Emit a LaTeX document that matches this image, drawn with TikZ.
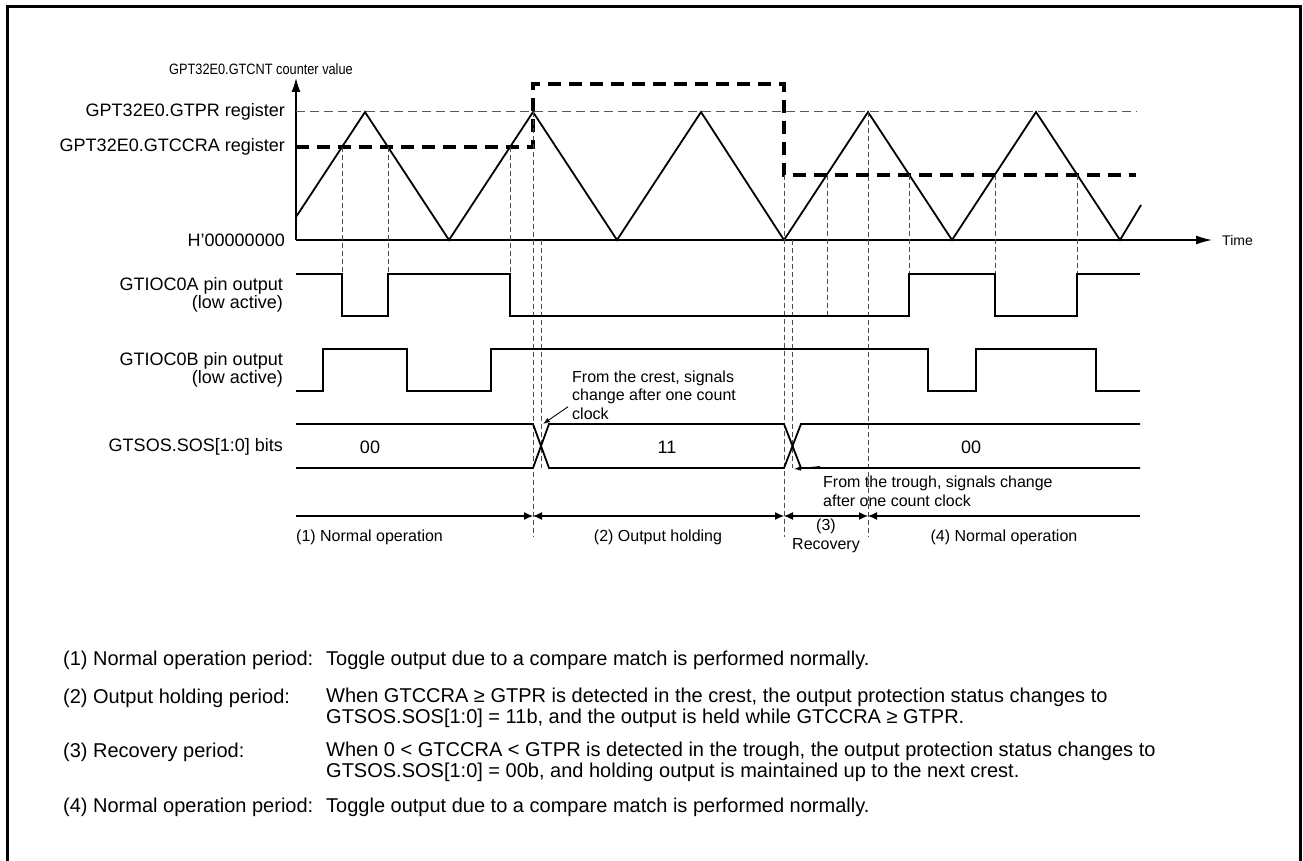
\documentclass[tikz,border=0pt]{standalone}
\usepackage{fontspec}
\setmainfont{Liberation Sans}
\usetikzlibrary{arrows.meta}

\begin{document}
\begin{tikzpicture}[x=1pt,y=-1pt,>=Latex,
  lbl/.style={anchor=east,inner sep=0pt,font=\fontsize{18}{18}\selectfont},
  val/.style={inner sep=0pt,font=\fontsize{18}{18}\selectfont},
  note/.style={anchor=west,align=left,inner sep=0pt,font=\fontsize{16}{18.7}\selectfont},
  period/.style={inner sep=0pt,font=\fontsize{16}{19}\selectfont},
  desc/.style={anchor=west,align=left,inner sep=0pt,font=\fontsize{20}{21}\selectfont},
  wave/.style={line width=1.8pt,line join=miter},
  guide/.style={gray!60!black,line width=0.8pt,dash pattern=on 5pt off 3pt},
  prline/.style={gray!70!black,line width=1pt,dash pattern=on 9pt off 5pt},
  ccline/.style={line width=4pt,dash pattern=on 13pt off 8pt},
  pointer/.style={line width=0.9pt,-{Latex[length=7pt,width=5pt]}},
  span/.style={line width=1.2pt,>={Latex[length=9pt,width=8pt]}}]
  \useasboundingbox (0,0) rectangle (1303,861);
  \draw[line width=3pt] (7,880) -- (7,7) -- (1300,7) -- (1300,880);

  % counter axes and labels
  \draw[line width=1.4pt,-{Latex[length=14pt,width=9pt]}] (296,240) -- (296,78);
  \draw[line width=1.4pt,-{Latex[length=16pt,width=9pt]}] (296,240) -- (1212,240);
  \node[inner sep=0pt,font=\fontsize{15}{15}\selectfont] (cnt) at (261,69)
    {\scalebox{0.85}[1]{GPT32E0.GTCNT counter value}};
  \node[lbl] (gtpr) at (285,112) {GPT32E0.GTPR register};
  \node[lbl] (gtccra) at (285,147) {GPT32E0.GTCCRA register};
  \node[lbl] (zero) at (285,240) {H’00000000};
  \node[anchor=west,inner sep=0pt,font=\fontsize{14}{14}\selectfont] (time) at (1222,240) {Time};

  % compare levels
  \draw[prline] (296,112) -- (1137,112);
  \draw[ccline] (296,147) -- (533,147) -- (533,84) -- (784,84) -- (784,175) -- (1136,175);

  % triangle count
  \draw[wave] (296,217) -- (365,112) -- (449,240) -- (533,112) -- (617,240) -- (701,112)
    -- (784,240) -- (868,112) -- (952,240) -- (1036,112) -- (1120,240) -- (1141,205);

  % compare match guides
  \foreach \x in {342,388,510} \draw[guide] (\x,147) -- (\x,274);
  \foreach \x in {909,995,1077} \draw[guide] (\x,175) -- (\x,274);
  \draw[guide] (827,175) -- (827,316);
  \draw[guide] (533,112) -- (533,537);
  \draw[guide] (868,112) -- (868,537);
  \draw[guide] (784,175) -- (784,537);
  \draw[guide] (541,240) -- (541,468);
  \draw[guide] (792,240) -- (792,468);

  % pin outputs
  \node[lbl,align=right] (pina) at (283,295) {GTIOC0A pin output\\(low active)};
  \node[lbl,align=right] (pinb) at (283,370) {GTIOC0B pin output\\(low active)};
  \draw[wave] (296,274) -- (342,274) -- (342,316) -- (388,316) -- (388,274) -- (510,274)
    -- (510,316) -- (909,316) -- (909,274) -- (995,274) -- (995,316) -- (1077,316)
    -- (1077,274) -- (1140,274);
  \draw[wave] (296,391) -- (323,391) -- (323,349) -- (407,349) -- (407,391) -- (491,391)
    -- (491,349) -- (928,349) -- (928,391) -- (976,391) -- (976,349) -- (1096,349)
    -- (1096,391) -- (1140,391);

  % status bits
  \node[lbl] (sos) at (283,447) {GTSOS.SOS[1:0] bits};
  \draw[wave] (296,424) -- (533,424) -- (549,468) -- (784,468) -- (801,424) -- (1140,424);
  \draw[wave] (296,468) -- (533,468) -- (549,424) -- (784,424) -- (801,468) -- (1140,468);
  \node[val] (s1) at (370,447) {00};
  \node[val] (s2) at (667,447) {11};
  \node[val] (s3) at (971,447) {00};

  \node[note] (crest) at (572,395) {From the crest, signals\\change after one count\\clock};
  \coordinate (crestx) at (543,424);
  \draw[pointer] ([shift={(-4,-13)}]crest.south west) -- (crestx);
  \node[note] (trough) at (823,491) {From the trough, signals change\\after one count clock};
  \coordinate (troughx) at (794,469);
  \draw[pointer] ([shift={(-3,-9)}]trough.north west) -- (troughx);

  % periods
  \draw[span,->] (296,516) -- (533,516);
  \draw[span,<->] (533,516) -- (784,516);
  \draw[span,<->] (784,516) -- (868,516);
  \draw[span,<-] (868,516) -- (1140,516);
  \node[period,anchor=west] (p1) at (296,537) {(1) Normal operation};
  \node[period] (p2) at (658,537) {(2) Output holding};
  \node[period,align=center] (p3) at (826,536) {(3)\\Recovery};
  \node[period] (p4) at (1004,537) {(4) Normal operation};

  % descriptions
  \node[desc] (d1) at (63,660) {(1) Normal operation period:};
  \node[desc] (t1) at (326,660) {Toggle output due to a compare match is performed normally.};
  \node[desc] (d2) at (63,698) {(2) Output holding period:};
  \node[desc] (t2) at (326,708) {When GTCCRA ≥ GTPR is detected in the crest, the output protection status changes to\\GTSOS.SOS[1:0] = 11b, and the output is held while GTCCRA ≥ GTPR.};
  \node[desc] (d3) at (63,752) {(3) Recovery period:};
  \node[desc] (t3) at (326,762) {When 0 < GTCCRA < GTPR is detected in the trough, the output protection status changes to\\GTSOS.SOS[1:0] = 00b, and holding output is maintained up to the next crest.};
  \node[desc] (d4) at (63,807) {(4) Normal operation period:};
  \node[desc] (t4) at (326,807) {Toggle output due to a compare match is performed normally.};
\end{tikzpicture}
\end{document}
